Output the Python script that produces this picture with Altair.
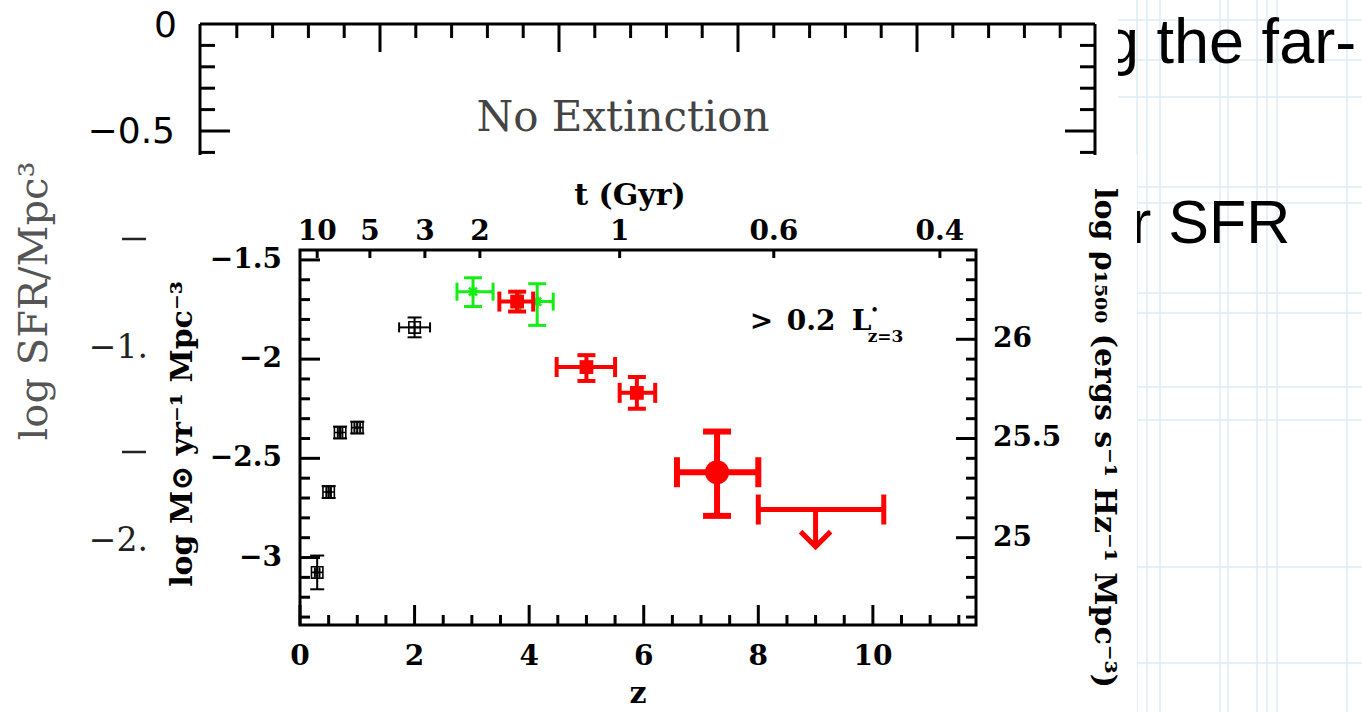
import altair as alt
import pandas as pd

# ---------------- data ----------------
BLACK_Z   = [0.30, 0.50, 0.70, 1.00, 2.00]
BLACK_Y   = [-3.075, -2.67, -2.37, -2.345, -1.84]
BLACK_YLO = [-3.16, -2.70, -2.40, -2.375, -1.89]
BLACK_YHI = [-2.99, -2.64, -2.34, -2.315, -1.79]
BLACK_XLO = [0.26, 0.46, 0.66, 0.95, 1.73]
BLACK_XHI = [0.34, 0.54, 0.74, 1.05, 2.27]

GREEN_Z   = [3.02, 4.14]
GREEN_Y   = [-1.66, -1.71]
GREEN_YLO = [-1.735, -1.83]
GREEN_YHI = [-1.59, -1.62]
GREEN_XLO = [2.74, 3.84]
GREEN_XHI = [3.37, 4.42]

RED_Z   = [3.79, 5.00, 5.88]
RED_Y   = [-1.71, -2.04, -2.17]
RED_YLO = [-1.76, -2.11, -2.25]
RED_YHI = [-1.66, -1.98, -2.09]
RED_XLO = [3.48, 4.48, 5.58]
RED_XHI = [4.07, 5.50, 6.20]

BIG_Z, BIG_Y = [7.28], [-2.57]
BIG_YLO, BIG_YHI = [-2.79], [-2.365]
BIG_XLO, BIG_XHI = [6.58], [8.00]

LIM_Z, LIM_Y, LIM_YTIP = [9.0], [-2.758], [-2.945]
LIM_XLO, LIM_XHI = [8.0], [10.19]

X_MAJOR = [0, 2, 4, 6, 8, 10]
X_MINOR = [0.5, 1, 1.5, 2.5, 3, 3.5, 4.5, 5, 5.5, 6.5, 7, 7.5, 8.5, 9, 9.5, 10.5, 11, 11.5]
Y_MAJOR = [-3, -2.5, -2, -1.5]
Y_MINOR = [-3.3, -3.2, -3.1, -2.9, -2.8, -2.7, -2.6, -2.4, -2.3, -2.2, -2.1,
           -1.9, -1.8, -1.7, -1.6]
R_MAJOR = [25, 25.5, 26]
R_MINOR = [24.6, 24.7, 24.8, 24.9, 25.1, 25.2, 25.3, 25.4, 25.6, 25.7, 25.8,
           25.9, 26.1, 26.2, 26.3, 26.4]
T_LABELS = ["10", "5", "3", "2", "1", "0.6", "0.4"]
T_Z = [0.30, 1.22, 2.18, 3.14, 5.58, 8.27, 11.17]

ANNOT_Z, ANNOT_Y = 7.85, -1.813

# ---------------- layout ----------------
W, H = 676, 375
OX, OY = 300, 250
F = "DejaVu Serif"
RED, GREEN = "#ff0000", "#14ee14"

xs = alt.Scale(domain=[0, 11.8], nice=False, zero=False)
ys = alt.Scale(domain=[-3.34, -1.45], nice=False, zero=False)
rs = alt.Scale(domain=[24.56, 26.45], nice=False, zero=False)


def X(f):
    return alt.X(f, type="quantitative", scale=xs, axis=None)


def Y(f):
    return alt.Y(f, type="quantitative", scale=ys, axis=None)


def errbars(df, color, w, capw, caph):
    base = alt.Chart(df)
    vbar = base.mark_rule(color=color, strokeWidth=w).encode(x=X("z"), y=Y("ylo"), y2="yhi")
    hbar = base.mark_rule(color=color, strokeWidth=w).encode(x=X("xlo"), x2="xhi", y=Y("y"))
    ycap = base.transform_fold(["ylo", "yhi"], as_=["k", "v"]).mark_tick(
        orient="horizontal", color=color, size=capw, thickness=w, opacity=1
    ).encode(x=X("z"), y=Y("v"))
    xcap = base.transform_fold(["xlo", "xhi"], as_=["k", "v"]).mark_tick(
        orient="vertical", color=color, size=caph, thickness=w, opacity=1
    ).encode(x=X("v"), y=Y("y"))
    return [vbar, hbar, ycap, xcap]


black_df = pd.DataFrame(dict(z=BLACK_Z, y=BLACK_Y, ylo=BLACK_YLO, yhi=BLACK_YHI, xlo=BLACK_XLO, xhi=BLACK_XHI))
green_df = pd.DataFrame(dict(z=GREEN_Z, y=GREEN_Y, ylo=GREEN_YLO, yhi=GREEN_YHI, xlo=GREEN_XLO, xhi=GREEN_XHI))
red_df = pd.DataFrame(dict(z=RED_Z, y=RED_Y, ylo=RED_YLO, yhi=RED_YHI, xlo=RED_XLO, xhi=RED_XHI))
big_df = pd.DataFrame(dict(z=BIG_Z, y=BIG_Y, ylo=BIG_YLO, yhi=BIG_YHI, xlo=BIG_XLO, xhi=BIG_XHI))
lim_df = pd.DataFrame(dict(z=LIM_Z, y=LIM_Y, ytip=LIM_YTIP, xlo=LIM_XLO, xhi=LIM_XHI))

BOXCROSS = "M-1,-1H1V1H-1ZM-1,0H1M0,-1V1"
AST = "M-1,0H1M0,-1V1M-0.7,-0.7L0.7,0.7M-0.7,0.7L0.7,-0.7"
ARROW = "M-1,-1L0,0L1,-1"

data_layers = []
data_layers += errbars(black_df, "black", 2, 14, 10)
data_layers.append(alt.Chart(black_df).mark_point(shape=BOXCROSS, size=130, filled=False, color="black",
                                                 strokeWidth=1.6, opacity=1).encode(x=X("z"), y=Y("y")))
data_layers += errbars(green_df, GREEN, 3, 18, 18)
data_layers.append(alt.Chart(green_df).mark_point(shape=AST, size=130, filled=False, color=GREEN,
                                                 strokeWidth=2.5, opacity=1).encode(x=X("z"), y=Y("y")))
data_layers += errbars(red_df, RED, 4, 18, 20)
data_layers.append(alt.Chart(red_df).mark_square(size=190, color=RED, opacity=1).encode(x=X("z"), y=Y("y")))
data_layers += errbars(big_df, RED, 6, 28, 30)
data_layers.append(alt.Chart(big_df).mark_circle(size=580, color=RED, opacity=1).encode(x=X("z"), y=Y("y")))
lim = alt.Chart(lim_df)
data_layers.append(lim.mark_rule(color=RED, strokeWidth=5).encode(x=X("xlo"), x2="xhi", y=Y("y")))
data_layers.append(lim.transform_fold(["xlo", "xhi"], as_=["k", "v"]).mark_tick(
    orient="vertical", color=RED, size=30, thickness=5, opacity=1).encode(x=X("v"), y=Y("y")))
data_layers.append(lim.mark_rule(color=RED, strokeWidth=5).encode(x=X("z"), y=Y("y"), y2="ytip"))
data_layers.append(lim.mark_point(shape=ARROW, size=900, filled=False, color=RED, strokeWidth=5,
                                  opacity=1, strokeJoin="miter").encode(x=X("z"), y=Y("ytip")))

# ---------------- ticks and tick labels (through the scales) ----------------
LBL = dict(font=F, fontSize=28, fontWeight="bold", color="black")

xmaj_df = pd.DataFrame({"z": X_MAJOR})
xmaj = alt.Chart(xmaj_df).mark_rule(color="black", strokeWidth=3).encode(
    x=X("z"), y=alt.value(H), y2=alt.value(H - 20))
xlab = alt.Chart(xmaj_df).mark_text(align="center", baseline="middle", **LBL).encode(
    x=X("z"), y=alt.value(H + 32), text=alt.Text("z:Q", format="~g"))
xmin = alt.Chart(pd.DataFrame({"z": X_MINOR})).mark_rule(color="black", strokeWidth=3).encode(
    x=X("z"), y=alt.value(H), y2=alt.value(H - 10))

ymaj_df = pd.DataFrame({"y": Y_MAJOR})
ymaj = alt.Chart(ymaj_df).mark_rule(color="black", strokeWidth=3).encode(
    y=Y("y"), x=alt.value(0), x2=alt.value(20))
ylab = alt.Chart(ymaj_df).mark_text(align="right", baseline="middle", **LBL).encode(
    y=Y("y"), x=alt.value(-18), text=alt.Text("y:Q", format="~g"))
ymin = alt.Chart(pd.DataFrame({"y": Y_MINOR})).mark_rule(color="black", strokeWidth=3).encode(
    y=Y("y"), x=alt.value(0), x2=alt.value(10))

tdf = pd.DataFrame({"z": T_Z, "label": T_LABELS})
ttick = alt.Chart(tdf).mark_rule(color="black", strokeWidth=3).encode(
    x=X("z"), y=alt.value(0), y2=alt.value(8))
tlab = alt.Chart(tdf).mark_text(align="center", baseline="middle", **LBL).encode(
    x=X("z"), y=alt.value(-18), text="label:N")

ann = alt.Chart(pd.DataFrame({"a": [0]}))
annot = []
for txt, dx, dy, fs in [(">", 0, 0, 28), ("0.2", 37, 0, 28), ("L", 102, 0, 28),
                        ("•", 121, -12, 12), ("z=3", 118, 15, 17)]:
    annot.append(ann.mark_text(text=txt, font=F, fontSize=fs, fontWeight="bold", color="black",
                               align="left", baseline="middle", dx=dx, dy=dy).encode(
        x=alt.datum(ANNOT_Z, scale=xs, axis=None), y=alt.datum(ANNOT_Y, scale=ys, axis=None)))


def vtext(text, px, py, **mk):
    return alt.Chart(pd.DataFrame({"t": [text]})).mark_text(**mk).encode(
        x=alt.value(px - OX), y=alt.value(py - OY), text="t:N")


TITLE = dict(font=F, fontWeight="bold", color="black", align="center")
titles = [
    vtext("t (Gyr)", 630, 196, fontSize=30, baseline="middle", **TITLE),
    vtext("z", 638, 694, fontSize=30, baseline="middle", **TITLE),
    vtext("log M⊙ yr⁻¹ Mpc⁻³", 183, 434, fontSize=30, baseline="middle", angle=270, **TITLE),
    vtext("log ρ₁₅₀₀ (ergs s⁻¹ Hz⁻¹ Mpc⁻³)", 1104, 438, fontSize=30, baseline="middle", angle=90, **TITLE),
]

# ---------------- background (slide + panel behind the figure) ----------------
grid_rows = []
for gx in [1137, 1147, 1160, 1220, 1228, 1257, 1267, 1277, 1347]:
    grid_rows.append(dict(x1=gx - OX, y1=0 - OY, x2=gx - OX, y2=712 - OY))
for gy in [20, 60, 97, 187, 203, 293, 313, 387, 420, 567, 663]:
    grid_rows.append(dict(x1=1118 - OX, y1=gy - OY, x2=1362 - OX, y2=gy - OY))
grid = alt.Chart(pd.DataFrame(grid_rows)).mark_rule(color="#dcedf3", strokeWidth=1.5).encode(
    x=alt.X("x1:Q", scale=None, axis=None), x2="x2:Q",
    y=alt.Y("y1:Q", scale=None, axis=None), y2="y2:Q")

slide1 = vtext("g the far-", 1104, 63, font="Liberation Sans", fontSize=63, color="black",
               align="left", baseline="alphabetic")
slide2 = vtext("r SFR", 1131, 243, font="Liberation Sans", fontSize=61, color="black",
               align="left", baseline="alphabetic")

masks = alt.Chart(pd.DataFrame([
    dict(x1=1000 - OX, x2=1118 - OX, y1=0 - OY, y2=155 - OY),
    dict(x1=1000 - OX, x2=1137 - OX, y1=155 - OY, y2=712 - OY),
])).mark_rect(color="white", opacity=1).encode(
    x=alt.X("x1:Q", scale=None, axis=None), x2="x2:Q",
    y=alt.Y("y1:Q", scale=None, axis=None), y2="y2:Q")

seg_rows = []


def seg(x1, y1, x2, y2, w=3, c="black"):
    seg_rows.append(dict(x1=x1 - OX, y1=y1 - OY, x2=x2 - OX, y2=y2 - OY, w=w, c=c))


seg(200, 24, 1095, 24)
seg(200, 24, 200, 155)
seg(1095, 24, 1095, 155)
for k in range(1, 25):
    px = 201 + k * 35.8
    seg(px, 24, px, 24 + (28 if k % 5 == 0 else 14))
for j in range(1, 7):
    py = 24 + j * 21.4
    L = 30 if j == 5 else 15
    seg(200, py, 200 + L, py)
    seg(1095, py, 1095 - L, py)
seg(122, 239, 146, 239, 2.5, "#222222")
seg(122, 452, 146, 452, 2.5, "#222222")
decor = alt.Chart(pd.DataFrame(seg_rows)).mark_rule().encode(
    x=alt.X("x1:Q", scale=None, axis=None), x2="x2:Q",
    y=alt.Y("y1:Q", scale=None, axis=None), y2="y2:Q",
    color=alt.Color("c:N", scale=None, legend=None),
    strokeWidth=alt.StrokeWidth("w:Q", scale=None, legend=None))

bg_texts = [
    vtext("0", 177, 26, font="DejaVu Sans", fontSize=36, color="black", align="right", baseline="middle"),
    vtext("−0.5", 175, 132, font="DejaVu Sans", fontSize=36, color="black", align="right", baseline="middle"),
    vtext("No Extinction", 623, 118, font="DejaVu Serif", fontSize=42, color="#444444",
          align="center", baseline="middle"),
    vtext("log SFR/Mpc³", 35, 301, font="DejaVu Serif", fontSize=40, color="#555555",
          align="center", baseline="middle", angle=270),
    vtext("−1.", 148, 348, font="DejaVu Serif", fontSize=33, color="#222222", align="right", baseline="middle"),
    vtext("−2.", 148, 541, font="DejaVu Serif", fontSize=33, color="#222222", align="right", baseline="middle"),
]

main = alt.layer(grid, slide1, slide2, masks, decor, *bg_texts,
                 xmaj, xmin, xlab, ymaj, ymin, ylab, ttick, tlab, *titles, *annot, *data_layers)

# ---------------- right axis (log rho_1500), own scale ----------------
rmaj_df = pd.DataFrame({"r": R_MAJOR})
RY = alt.Y("r", type="quantitative", scale=rs, axis=None)
rmaj = alt.Chart(rmaj_df).mark_rule(color="black", strokeWidth=3).encode(
    y=RY, x=alt.value(W), x2=alt.value(W - 20))
rlab = alt.Chart(rmaj_df).mark_text(align="left", baseline="middle", **LBL).encode(
    y=RY, x=alt.value(W + 17), text=alt.Text("r:Q", format="~g"))
rmin = alt.Chart(pd.DataFrame({"r": R_MINOR})).mark_rule(color="black", strokeWidth=3).encode(
    y=RY, x=alt.value(W), x2=alt.value(W - 10))
right = alt.layer(rmaj, rmin, rlab)

chart = alt.layer(main, right).resolve_scale(y="independent").properties(
    width=W, height=H,
    autosize=alt.AutoSizeParams(type="none"),
    padding={"left": OX, "top": OY, "right": 1362 - OX - W, "bottom": 712 - OY - H},
    background="white",
).configure_view(stroke="black", strokeWidth=3)

chart.save("out.html", embed_options={"renderer": "svg", "actions": False})
